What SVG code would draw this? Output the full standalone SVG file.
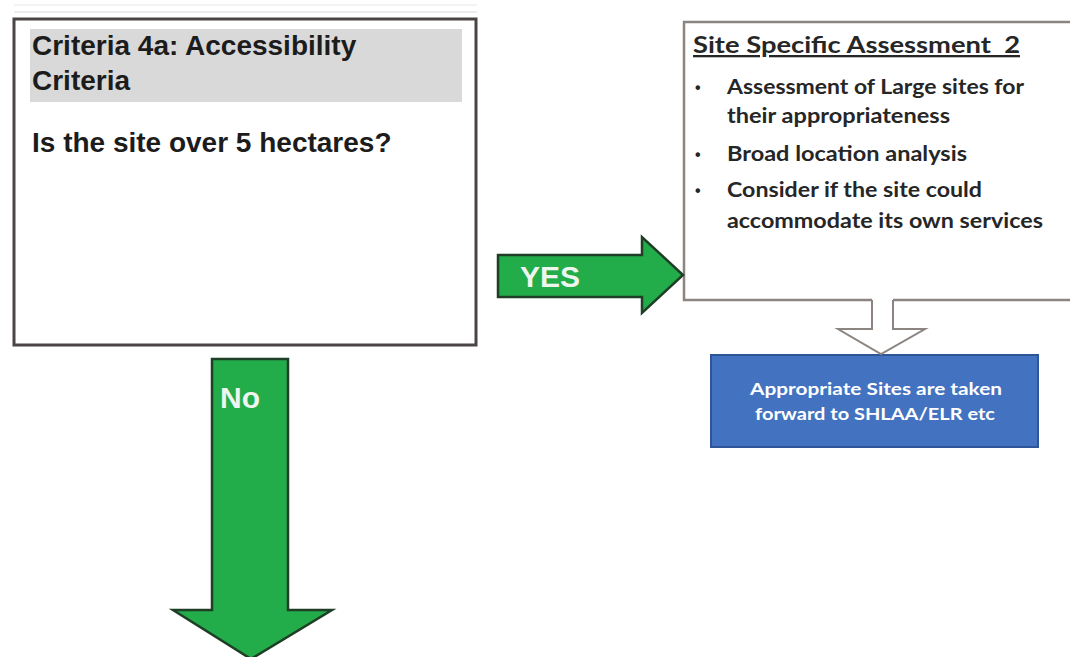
<svg xmlns="http://www.w3.org/2000/svg" width="1070" height="657" viewBox="0 0 1070 657">
  <style>
    .hd { font-family: "Liberation Sans", Arial, sans-serif; font-weight: bold; font-size: 28px; fill: #1c1c1c; }
    .cal { font-family: Lato, "Liberation Sans", sans-serif; font-weight: bold; fill: #262626; }
    .bul { font-family: "Liberation Sans", Arial, sans-serif; font-weight: bold; font-size: 16px; fill: #262626; }
    .lbl { font-family: "Liberation Sans", Arial, sans-serif; font-weight: bold; font-size: 30px; fill: #eef5ee; }
    .green { fill: #22ac4a; stroke: #1e3f26; stroke-width: 2.5; stroke-linejoin: miter; }
    .wht { font-family: Lato, "Liberation Sans", sans-serif; font-weight: bold; font-size: 17px; fill: #ffffff; }
  </style>
  <rect width="1070" height="657" fill="#ffffff"/>
  <line x1="14" y1="5" x2="477" y2="5" stroke="#efefef" stroke-width="1.5"/>
  <line x1="14" y1="12" x2="477" y2="12" stroke="#e6e6e6" stroke-width="1.5"/>

  <g id="criteria-box">
    <rect x="14" y="19" width="462" height="326" fill="#ffffff" stroke="#4a4444" stroke-width="3"/>
    <rect x="30" y="29" width="432" height="73" fill="#d9d9d9"/>
    <text class="hd" x="32" y="55">Criteria 4a: Accessibility</text>
    <text class="hd" x="32" y="90">Criteria</text>
    <text class="hd" x="32" y="152">Is the site over 5 hectares?</text>
  </g>

  <g id="assessment-box">
    <rect x="684" y="22" width="400" height="278" fill="#ffffff" stroke="#8c8480" stroke-width="2.5"/>
    <text class="cal" x="693" y="53" font-size="23" textLength="327" lengthAdjust="spacingAndGlyphs" text-decoration="underline">Site Specific Assessment&#160; 2</text>
    <text class="bul" x="695" y="93">•</text>
    <text class="cal" x="727" y="94" font-size="20" textLength="297" lengthAdjust="spacingAndGlyphs">Assessment of Large sites for</text>
    <text class="cal" x="727" y="123" font-size="20" textLength="223" lengthAdjust="spacingAndGlyphs">their appropriateness</text>
    <text class="bul" x="695" y="160">•</text>
    <text class="cal" x="727" y="161" font-size="20" textLength="240" lengthAdjust="spacingAndGlyphs">Broad location analysis</text>
    <text class="bul" x="695" y="196">•</text>
    <text class="cal" x="727" y="197" font-size="20" textLength="255" lengthAdjust="spacingAndGlyphs">Consider if the site could</text>
    <text class="cal" x="727" y="228" font-size="20" textLength="316" lengthAdjust="spacingAndGlyphs">accommodate its own services</text>
  </g>

  <g id="result-box">
    <rect x="711" y="355" width="327" height="92" fill="#4272c0" stroke="#2e5597" stroke-width="2"/>
    <text class="wht" x="876" y="395" text-anchor="middle" textLength="252" lengthAdjust="spacingAndGlyphs">Appropriate Sites are taken</text>
    <text class="wht" x="875" y="420" text-anchor="middle" textLength="240" lengthAdjust="spacingAndGlyphs">forward to SHLAA/ELR etc</text>
  </g>

  <g id="connectors">
    <g id="yes-arrow">
      <polygon class="green" points="498,255 642,255 642,237 683,275 642,313 642,297 498,297"/>
      <text class="lbl" x="520" y="287">YES</text>
    </g>
    <g id="no-arrow">
      <polygon class="green" points="212,359 288,359 288,610 332,610 251,659 173,610 212,610"/>
      <text class="lbl" x="220" y="408">No</text>
    </g>
    <g id="down-arrow">
      <polygon points="872,298 893,298 893,329 925,329 881,354 838,329 872,329" fill="#ffffff"/>
      <polyline points="872,300 872,329 838,329 881,354 925,329 893,329 893,300" fill="none" stroke="#8c8480" stroke-width="2" stroke-linejoin="miter"/>
    </g>
  </g>
</svg>
